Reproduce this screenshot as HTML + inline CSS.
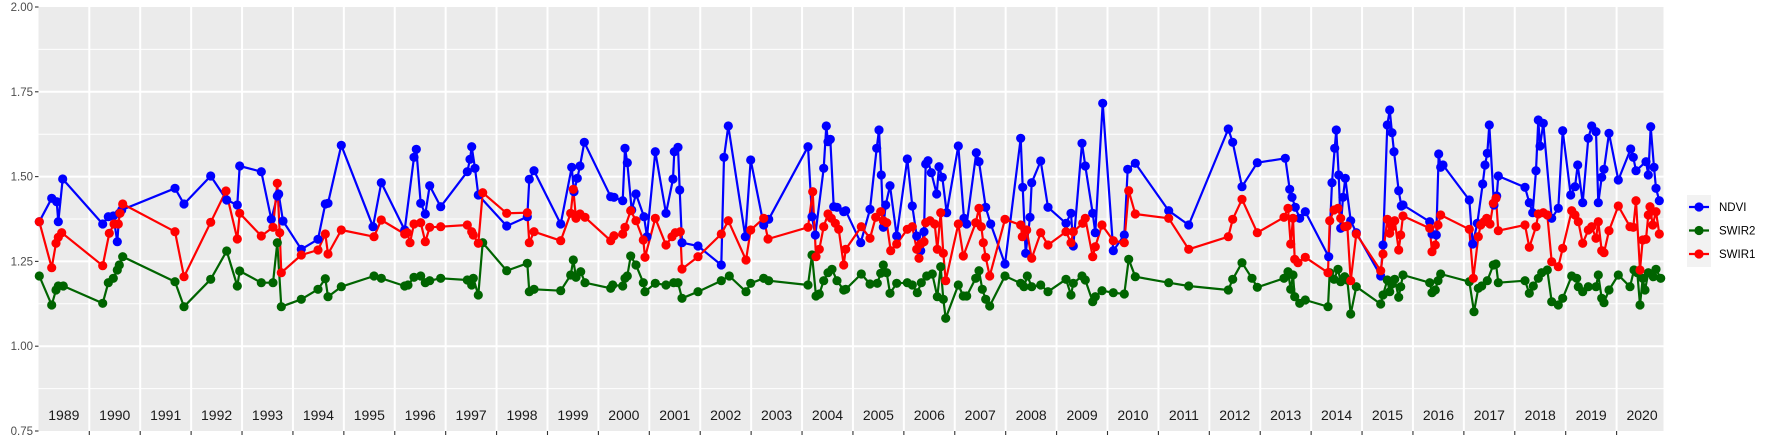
<!DOCTYPE html>
<html><head><meta charset="utf-8">
<style>
html,body{margin:0;padding:0;background:#fff;}
svg{display:block;font-family:"Liberation Sans",sans-serif;}
</style></head>
<body>
<svg id="s" width="1773" height="442" viewBox="0 0 1773 442" xmlns="http://www.w3.org/2000/svg">
<rect x="0" y="0" width="1773" height="442" fill="#fff"/>
<rect x="38.5" y="7" width="1625" height="424" fill="#ebebeb"/>
<g id="grid"></g>
<g id="axes"></g>
<g id="data"></g>
<g id="legend">
<rect x="1687" y="195" width="24" height="72" fill="#f2f2f2"/>
<line x1="1689" y1="207" x2="1709" y2="207" stroke="#0000ff" stroke-width="2.2"/>
<circle cx="1699" cy="207" r="4.6" fill="#0000ff"/>
<line x1="1689" y1="230.5" x2="1709" y2="230.5" stroke="#006400" stroke-width="2.2"/>
<circle cx="1699" cy="230.5" r="4.6" fill="#006400"/>
<line x1="1689" y1="254" x2="1709" y2="254" stroke="#ff0000" stroke-width="2.2"/>
<circle cx="1699" cy="254" r="4.6" fill="#ff0000"/>
<text x="1719" y="211" font-size="11.5" fill="#000">NDVI</text>
<text x="1719" y="234.5" font-size="11.5" fill="#000">SWIR2</text>
<text x="1719" y="258" font-size="11.5" fill="#000">SWIR1</text>
</g>
</svg>
<script>
var NS="http://www.w3.org/2000/svg";
function el(p,t,a,txt){var e=document.createElementNS(NS,t);for(var k in a)e.setAttribute(k,a[k]);if(txt!==undefined)e.textContent=txt;p.appendChild(e);return e;}
var grid=document.getElementById('grid'),axes=document.getElementById('axes'),data=document.getElementById('data');
function yv(v){return 431-(v-0.75)*339.2;}
// horizontal grid
for(var i=0;i<=10;i++){var v=0.75+i*0.125;var y=yv(v);var major=(i%2==0);
 if(y>7.5&&y<430.5) el(grid,'line',{x1:38.5,x2:1663.5,y1:y,y2:y,stroke:'#fff','stroke-width':major?2:1});}
// vertical year gridlines
for(var k=0;k<31;k++){var x=89.3+50.91*k;el(grid,'line',{x1:x,x2:x,y1:7,y2:431,stroke:'#fff','stroke-width':2});}
// y axis
var labs=['0.75','1.00','1.25','1.50','1.75','2.00'];
for(var i=0;i<6;i++){var y=yv(0.75+i*0.25);
 el(axes,'line',{x1:35,x2:38.5,y1:y,y2:y,stroke:'#333','stroke-width':1.1});
 el(axes,'text',{x:33,y:y+4,'font-size':11.5,fill:'#4d4d4d','text-anchor':'end'},labs[i]);}
// x ticks
for(var k=0;k<31;k++){var x=89.3+50.91*k;el(axes,'line',{x1:x,x2:x,y1:431,y2:435,stroke:'#333','stroke-width':1.1});}
// year labels
for(var i=0;i<32;i++){var x=38.4+50.91*(i+0.5);el(axes,'text',{x:x,y:420,'font-size':14,fill:'#1a1a1a','text-anchor':'middle'},String(1989+i));}

function conv(off,arr){var o=[];for(var i=0;i<arr.length;i++)o.push([off[0]+arr[i][0]/3,off[1]+arr[i][1]/3]);return o;}
var Z1=[0,0],Z3=[238,90],Z4=[440,90],Z5=[642,90],Z6=[844,90],Z7=[1046,90],Z8=[1248,90],Z9=[1450,90];
var blue=[].concat(
conv(Z1,[[118,665],[155,595],[170,605],[175,665],[188,537],[308,672],[325,650],[340,648],[352,725],[358,640],[365,630],[525,565],[552,612],[632,528],[680,600],[712,615]]),
conv(Z3,[[5,228],[70,245],[100,388],[118,318],[122,312],[135,393],[190,478],[240,448],[262,342],[270,340],[310,166],[405,410],[430,278],[500,420],[528,202],[535,178],[548,340],[562,372],[575,287],[608,350]]),
conv(Z4,[[82,245],[90,208],[95,170],[105,235],[115,315],[200,408],[262,380],[268,268],[282,242],[362,402],[395,232],[402,305],[412,265],[420,228],[433,157],[512,320],[522,322],[548,332],[555,175],[562,218],[575,360],[588,312],[612,380]]),
conv(Z5,[[15,440],[40,185],[72,370],[93,267],[97,185],[108,172],[113,300],[120,458],[168,468],[238,525],[246,202],[259,108],[310,440],[326,210],[365,405],[380,388],[498,170],[510,380],[520,435],[545,235],[553,108],[558,155],[565,148],[575,350],[585,352],[605,365]]),
conv(Z6,[[5,362],[50,458],[78,358],[98,175],[105,120],[112,255],[118,412],[125,345],[138,287],[158,438],[190,207],[205,348],[218,438],[230,482],[240,425],[245,222],[252,212],[262,248],[278,312],[285,230],[295,262],[308,368],[343,168],[360,385],[368,402],[397,188],[405,215],[425,352],[440,402],[483,522],[530,145],[536,292],[545,490],[558,382],[563,278],[590,213],[612,352]]),
conv(Z7,[[60,400],[75,370],[82,468],[108,160],[118,228],[140,370],[148,428],[170,40],[202,482],[235,435],[245,238],[268,220],[368,362],[428,405],[547,117],[560,157],[588,290]]),
conv(Z8,[[28,218],[112,205],[125,298],[132,322],[142,352],[155,385],[172,365],[242,500],[252,278],[260,175],[265,120],[272,255],[278,415],[285,322],[292,265],[308,392],[325,428],[398,558],[405,465],[418,105],[425,60],[432,128],[438,185],[452,302],[460,348],[465,345],[545,395],[552,432],[565,435],[572,192],[578,232],[585,225]]),
conv(Z9,[[58,330],[68,462],[82,400],[98,282],[105,225],[112,190],[118,105],[132,345],[140,318],[145,258],[225,292],[238,338],[248,368],[258,242],[265,90],[270,168],[280,100],[305,385],[325,355],[338,122],[362,315],[375,290],[383,225],[398,338],[415,145],[425,108],[438,125],[445,338],[455,262],[462,238],[477,130],[505,270],[542,177],[550,202],[558,242],[588,215],[595,255],[602,110],[612,232],[618,295],[628,332]])
);
var red=[].concat(
conv(Z1,[[118,665],[155,803],[168,730],[175,712],[185,698],[308,797],[328,700],[342,672],[355,672],[360,640],[368,612],[525,695],[552,830],[632,667],[678,573],[712,717]]),
conv(Z3,[[5,370],[70,438],[105,412],[118,280],[125,428],[130,548],[190,495],[240,480],[262,432],[270,492],[310,420],[408,440],[430,390],[500,432],[508,428],[516,458],[528,402],[548,398],[562,455],[575,412],[608,410]]),
conv(Z4,[[82,405],[95,425],[100,435],[115,460],[128,308],[200,370],[262,368],[268,458],[282,425],[362,452],[392,370],[400,298],[408,385],[420,372],[435,382],[512,452],[522,437],[548,432],[555,412],[572,362],[588,392],[610,450],[615,502]]),
conv(Z5,[[40,385],[72,465],[90,440],[100,428],[115,425],[120,537],[168,500],[238,432],[259,392],[312,510],[326,420],[365,385],[378,447],[498,412],[512,305],[522,500],[532,478],[545,410],[558,372],[568,385],[580,400],[590,418],[605,525]]),
conv(Z6,[[5,478],[52,410],[78,445],[95,382],[110,365],[118,392],[128,398],[140,482],[158,462],[190,418],[205,410],[218,478],[225,505],[230,462],[240,455],[245,398],[258,392],[272,402],[280,478],[290,368],[298,490],[305,572],[343,402],[358,498],[395,398],[405,355],[412,410],[418,458],[425,502],[437,558],[483,388],[530,405],[535,440],[548,420],[563,505],[590,428],[612,465]]),
conv(Z7,[[60,425],[75,458],[82,425],[110,400],[118,385],[140,500],[148,470],[168,405],[202,452],[235,458],[248,302],[268,372],[368,385],[428,478],[547,440],[560,388],[588,328]]),
conv(Z8,[[28,428],[108,382],[120,355],[128,462],[135,385],[140,508],[150,518],[172,502],[240,548],[245,392],[258,360],[270,355],[278,385],[290,410],[298,408],[308,572],[325,432],[398,542],[405,492],[418,388],[425,430],[432,410],[440,392],[452,480],[458,435],[465,378],[545,415],[552,485],[562,465],[570,405],[578,375]]),
conv(Z9,[[58,418],[70,565],[85,440],[92,405],[102,395],[110,385],[120,402],[130,340],[138,325],[145,422],[225,405],[238,472],[258,410],[265,372],[280,368],[292,375],[305,515],[325,530],[338,475],[365,362],[375,375],[385,395],[398,460],[415,420],[425,410],[438,445],[445,395],[455,482],[462,488],[477,422],[505,348],[540,410],[550,412],[558,332],[570,540],[578,450],[588,448],[595,375],[600,350],[608,405],[618,365],[628,432]])
);
var green=[].concat(
conv(Z1,[[118,828],[155,915],[168,870],[175,858],[190,858],[308,910],[325,848],[340,835],[352,810],[358,795],[368,770],[525,845],[552,920],[632,838],[680,753],[712,858]]),
conv(Z3,[[5,543],[70,578],[105,578],[118,458],[130,650],[190,628],[240,598],[262,566],[270,620],[310,590],[408,558],[430,565],[500,588],[510,585],[528,562],[548,558],[562,578],[575,572],[608,565]]),
conv(Z4,[[82,570],[95,585],[100,565],[115,615],[128,458],[200,542],[262,520],[268,605],[282,598],[362,602],[392,555],[400,510],[408,562],[422,545],[435,578],[512,595],[518,585],[548,588],[555,565],[562,558],[572,498],[588,525],[610,578],[615,605]]),
conv(Z5,[[40,580],[72,585],[95,578],[108,578],[120,625],[168,605],[238,572],[262,558],[312,605],[326,580],[365,565],[380,572],[498,585],[510,495],[522,618],[532,612],[545,572],[558,548],[570,538],[585,572],[605,600]]),
conv(Z6,[[5,598],[52,552],[78,582],[100,580],[110,550],[118,525],[128,548],[138,610],[158,580],[190,578],[205,585],[220,608],[232,578],[248,558],[265,552],[280,620],[290,530],[298,628],[305,685],[343,585],[358,618],[368,618],[395,565],[405,542],[415,598],[425,628],[437,648],[483,558],[530,580],[540,590],[550,558],[563,590],[590,585],[612,605]]),
conv(Z7,[[60,568],[75,615],[82,580],[108,558],[118,570],[140,635],[148,620],[168,602],[202,608],[235,612],[248,508],[268,560],[368,578],[428,588],[547,600],[560,568],[588,518],[618,565]]),
conv(Z8,[[28,592],[108,565],[120,545],[128,598],[135,555],[140,620],[155,640],[172,630],[240,650],[245,548],[258,568],[270,538],[278,575],[290,560],[298,570],[308,672],[325,590],[398,642],[405,615],[418,570],[425,605],[432,582],[440,568],[452,622],[458,590],[465,555],[545,578],[552,608],[562,600],[570,572],[578,552]]),
conv(Z9,[[58,575],[72,665],[85,595],[95,588],[112,572],[130,525],[138,522],[145,578],[225,572],[238,610],[250,588],[265,565],[275,548],[292,540],[305,635],[325,645],[338,625],[365,558],[380,565],[385,590],[398,605],[415,590],[438,590],[445,555],[455,625],[462,638],[477,600],[505,555],[540,590],[552,540],[562,548],[570,645],[578,565],[585,600],[595,548],[610,560],[618,538],[632,565]])
);
var series=[[blue,'#0000ff'],[green,'#006400'],[red,'#ff0000']];
var clip=el(data,'g',{});
series.forEach(function(s){var d='';s[0].forEach(function(p,i){d+=(i?'L':'M')+p[0].toFixed(1)+' '+p[1].toFixed(1);});
 el(clip,'path',{d:d,fill:'none',stroke:s[1],'stroke-width':2.2,'stroke-linejoin':'round'});});
series.forEach(function(s){s[0].forEach(function(p){el(clip,'circle',{cx:p[0].toFixed(1),cy:p[1].toFixed(1),r:4.6,fill:s[1]});});});
</script>
</body></html>
